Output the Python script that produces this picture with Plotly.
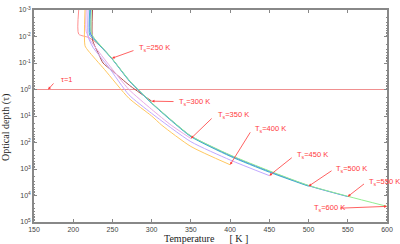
import numpy as np
import plotly.graph_objects as go

# ---- data (temperature in K, optical depth as log10 exponent) ----
T_250 = [207, 207, 220, 233, 248, 250]
L_250 = [-3, -2.09, -1.96, -1.68, -1.22, -1.15]

T_300 = [224.6, 224.6, 233, 238, 250, 272, 300]
L_300 = [-3, -1.87, -1.3, -1.0, -0.7, -0.15, 0.44]

T_350 = [216.5, 216.5, 222, 245, 271, 300, 325, 350]
L_350 = [-3, -2.2, -1.85, -0.95, 0.0, 0.75, 1.35, 1.85]

T_400 = [215, 215, 219.5, 240, 271, 300, 313, 350, 400]
L_400 = [-3, -1.65, -1.45, -0.75, 0.33, 1.0, 1.35, 2.15, 2.84]

T_450 = [219, 219, 225, 245, 271, 300, 350, 400, 450]
L_450 = [-3, -2.0, -1.6, -0.85, 0.2, 0.9, 1.97, 2.66, 3.25]

T_500 = [221, 221, 226, 249, 272, 300, 325, 350, 400, 450, 500]
L_500 = [-3, -2.05, -1.9, -1.17, -0.3, 0.52, 1.18, 1.78, 2.52, 3.12, 3.65]

T_550 = [222, 222, 226.5, 249, 272, 300, 325, 350, 400, 450, 500, 550]
L_550 = [-3, -2.1, -1.92, -1.18, -0.32, 0.51, 1.16, 1.76, 2.49, 3.09, 3.63, 4.04]

T_600 = [223, 223, 227, 249, 272, 300, 325, 350, 400, 450, 500, 550, 600]
L_600 = [-3, -2.15, -1.93, -1.19, -0.33, 0.5, 1.15, 1.75, 2.47, 3.07, 3.62, 4.03, 4.41]

surface_T = [250, 300, 350, 400, 450, 500, 550, 600]
colors = ["#ff9090", "#b05050", "#e8a8e8", "#ffc860", "#c0a8ff", "#40c0c0", "#4070ff", "#90ee90"]
curves = [(T_250, L_250), (T_300, L_300), (T_350, L_350), (T_400, L_400),
          (T_450, L_450), (T_500, L_500), (T_550, L_550), (T_600, L_600)]

tau1_T = [150, 600]
tau1_L = [0, 0]

x_ticks = [150, 200, 250, 300, 350, 400, 450, 500, 550, 600]
y_exps = [-3, -2, -1, 0, 1, 2, 3, 4, 5]

# label positions: (text left T, text logtau, arrow tail T, tail logtau, tip T, tip logtau)
label_pos = [
    (281.3, -1.56, 278.7, -1.49, 249.5, -1.18),
    (332.0, 0.46, 329.8, 0.456, 300, 0.44),
    (382.2, 0.96, 378.4, 1.04, 350, 1.85),
    (429.5, 1.48, 426.9, 1.56, 400, 2.84),
    (483.0, 2.49, 480.5, 2.53, 450, 3.25),
    (533.0, 2.99, 531.2, 3.03, 500, 3.65),
    (574.0, 3.48, 572.6, 3.52, 550, 4.04),
    (504.4, 4.47, 538.4, 4.48, 600, 4.41),
]

fig = go.Figure()
fig.add_trace(go.Scatter(x=tau1_T, y=np.power(10.0, tau1_L), mode="lines",
                         line=dict(color="#f09090", width=1), showlegend=False))
for (T, L), c in zip(curves, colors):
    fig.add_trace(go.Scatter(x=T, y=np.power(10.0, L), mode="lines",
                             line=dict(color=c, width=1, shape="spline", smoothing=0.6),
                             showlegend=False))

red = "#ff3a3a"
ann = []
for ts, (tx, ty, ax, ay, px, py) in zip(surface_T, label_pos):
    ann.append(dict(x=px, y=py, ax=ax, ay=ay, axref="x", ayref="y", xref="x", yref="y",
                    text="", showarrow=True, arrowhead=2, arrowsize=0.7, arrowwidth=0.8,
                    arrowcolor=red))
    ann.append(dict(x=tx, y=ty, xref="x", yref="y", text=f"T<sub>s</sub>={ts} K",
                    showarrow=False, xanchor="left", yanchor="middle",
                    font=dict(family="Liberation Sans", size=7.5, color=red)))
ann.append(dict(x=168, y=0, ax=176.6, ay=-0.285, axref="x", ayref="y", xref="x", yref="y",
                text="", showarrow=True, arrowhead=2, arrowsize=0.7, arrowwidth=0.8,
                arrowcolor=red))
ann.append(dict(x=181.7, y=-0.38, xref="x", yref="y", text="τ=1", showarrow=False,
                xanchor="left", yanchor="middle",
                font=dict(family="Liberation Sans", size=7.5, color=red)))
ann.append(dict(x=0.5, y=0, xref="paper", yref="paper", yshift=-9, xshift=-5,
                text="Temperature\u00a0\u00a0\u00a0\u00a0\u00a0\u00a0[ K ]", showarrow=False,
                xanchor="center", yanchor="top",
                font=dict(family="Liberation Serif", size=10, color="#222")))
ann.append(dict(x=0, y=0.5, xref="paper", yref="paper", xshift=-20, yshift=-12,
                text="Optical depth (τ)", showarrow=False, textangle=-90,
                xanchor="right", yanchor="middle",
                font=dict(family="Liberation Serif", size=10, color="#222")))

axis_common = dict(showline=True, linecolor="#888", linewidth=1.5, mirror="ticks",
                   ticks="inside", tickcolor="#888", ticklen=3, showgrid=False,
                   zeroline=False, tickfont=dict(family="Liberation Sans", size=7, color="#444"))

fig.update_layout(
    width=400, height=244, margin=dict(l=34, r=13, t=6, b=22),
    paper_bgcolor="white", plot_bgcolor="white",
    xaxis=dict(range=[150, 600], tickvals=x_ticks, ticktext=[str(v) for v in x_ticks], **axis_common),
    yaxis=dict(type="log", range=[5, -3], tickvals=[10.0 ** e for e in y_exps],
               ticktext=[f"10<sup>{e}</sup>" for e in y_exps],
               minor=dict(ticks="inside", ticklen=1.5, tickcolor="#888", dtick="D1"),
               **axis_common),
    annotations=ann,
)
fig.write_html("out.html", config={"displayModeBar": False},
               post_script="document.body.style.margin='0';")
